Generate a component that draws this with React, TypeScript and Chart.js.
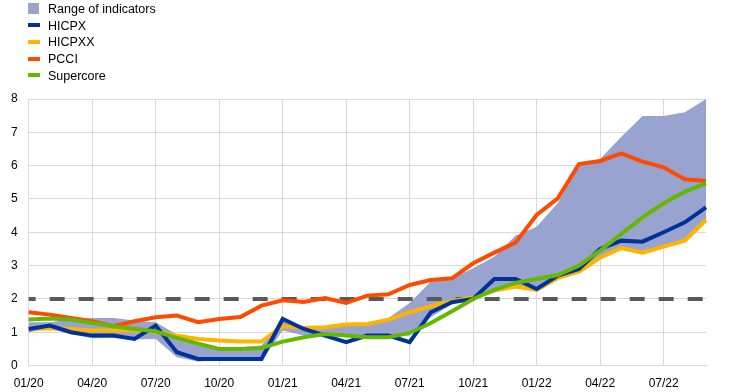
import React, { useEffect, useRef } from "react";
import { Chart, registerables } from "chart.js";

Chart.register(...registerables);

const months = [
  "01/20", "02/20", "03/20", "04/20", "05/20", "06/20", "07/20", "08/20", "09/20", "10/20", "11/20", "12/20",
  "01/21", "02/21", "03/21", "04/21", "05/21", "06/21", "07/21", "08/21", "09/21", "10/21", "11/21", "12/21",
  "01/22", "02/22", "03/22", "04/22", "05/22", "06/22", "07/22", "08/22", "09/22",
];

const rangeHigh = [
  1.3, 1.3, 1.38, 1.43, 1.43, 1.35, 1.3, 0.93, 0.6, 0.55, 0.55, 0.6,
  1.38, 1.15, 1.15, 1.24, 1.28, 1.43, 1.88, 2.52, 2.62, 2.92, 3.27, 3.9,
  4.17, 4.88, 6.0, 6.2, 6.87, 7.49, 7.49, 7.6, 8.0,
];
const rangeLow = [
  1.0, 1.1, 0.95, 0.82, 0.83, 0.78, 0.8, 0.25, 0.12, 0.17, 0.17, 0.13,
  1.05, 0.9, 0.93, 0.85, 0.93, 0.9, 0.9, 1.45, 1.85, 2.03, 2.2, 2.35,
  2.25, 2.6, 2.8, 3.2, 3.5, 3.35, 3.55, 3.75, 4.35,
];
const hicpx = [
  1.1, 1.2, 1.0, 0.9, 0.9, 0.8, 1.2, 0.4, 0.2, 0.2, 0.2, 0.2,
  1.4, 1.1, 0.9, 0.7, 0.9, 0.9, 0.7, 1.6, 1.9, 2.0, 2.6, 2.6,
  2.3, 2.7, 2.9, 3.5, 3.75, 3.72, 4.0, 4.3, 4.75,
];
const hicpxx = [
  1.1, 1.12, 1.1, 1.05, 1.05, 1.05, 1.02, 0.9, 0.8, 0.75, 0.72, 0.72,
  1.18, 1.13, 1.15, 1.23, 1.25, 1.38, 1.6, 1.78, 1.93, 2.05, 2.25, 2.37,
  2.27, 2.63, 2.82, 3.24, 3.53, 3.39, 3.57, 3.75, 4.37,
];
const pcci = [
  1.6, 1.53, 1.43, 1.33, 1.18, 1.33, 1.45, 1.5, 1.3, 1.4, 1.46, 1.8,
  1.96, 1.91, 2.03, 1.88, 2.1, 2.14, 2.42, 2.57, 2.62, 3.07, 3.39, 3.69,
  4.52, 5.02, 6.05, 6.14, 6.37, 6.12, 5.95, 5.59, 5.54,
];
const supercore = [
  1.38, 1.41, 1.38, 1.28, 1.18, 1.1, 1.03, 0.83, 0.66, 0.5, 0.5, 0.53,
  0.72, 0.85, 0.95, 0.9, 0.85, 0.85, 0.98, 1.28, 1.63, 2.0, 2.27, 2.48,
  2.6, 2.72, 3.0, 3.45, 3.95, 4.45, 4.87, 5.22, 5.47,
];
const targetValue = 2;
const yTicks = [0, 1, 2, 3, 4, 5, 6, 7, 8];

const COLORS = {
  range: "#99a3d0",
  hicpx: "#003299",
  hicpxx: "#ffb400",
  pcci: "#ff4b00",
  supercore: "#65b800",
  target: "#595959",
  grid: "#d9d9d9",
};

const FONT = '"Liberation Sans", Arial, sans-serif';

const legendItems = [
  { label: "Range of indicators", color: COLORS.range, square: true },
  { label: "HICPX", color: COLORS.hicpx, square: false },
  { label: "HICPXX", color: COLORS.hicpxx, square: false },
  { label: "PCCI", color: COLORS.pcci, square: false },
  { label: "Supercore", color: COLORS.supercore, square: false },
];

export default function App() {
  const ref = useRef<HTMLCanvasElement | null>(null);

  useEffect(() => {
    document.body.style.margin = "0";
    const canvas = ref.current;
    if (!canvas) return;
    const line = (label: string, data: number[], color: string, order: number) => ({
      label,
      data,
      borderColor: color,
      backgroundColor: color,
      borderWidth: 4,
      pointRadius: 0,
      tension: 0,
      fill: false,
      order,
    });
    const chart = new Chart(canvas, {
      type: "line",
      data: {
        labels: months,
        datasets: [
          {
            label: "low",
            data: rangeLow,
            borderWidth: 0,
            borderColor: "transparent",
            pointRadius: 0,
            fill: false,
            order: 10,
          },
          {
            label: "Range of indicators",
            data: rangeHigh,
            borderWidth: 0,
            borderColor: "transparent",
            backgroundColor: COLORS.range,
            pointRadius: 0,
            fill: 0,
            order: 9,
          },
          {
            label: "target",
            data: months.map(() => targetValue),
            borderColor: COLORS.target,
            borderWidth: 4,
            borderDash: [15, 14],
            borderDashOffset: 8,
            pointRadius: 0,
            fill: false,
            order: 8,
          },
          line("HICPXX", hicpxx, COLORS.hicpxx, 4),
          line("HICPX", hicpx, COLORS.hicpx, 3),
          line("PCCI", pcci, COLORS.pcci, 2),
          line("Supercore", supercore, COLORS.supercore, 1),
        ],
      },
      options: {
        responsive: false,
        animation: false,
        layout: { padding: { left: 0, right: 37, top: 99, bottom: -10 } },
        plugins: {
          legend: { display: false },
          tooltip: { enabled: false },
        },
        scales: {
          x: {
            type: "category",
            offset: false,
            grid: {
              color: (ctx: any) => (ctx.index % 3 === 0 ? COLORS.grid : "transparent"),
              drawTicks: false,
              lineWidth: 1,
            },
            border: { display: true, color: COLORS.grid },
            ticks: {
              autoSkip: false,
              maxRotation: 0,
              padding: 11,
              color: "#000",
              font: { family: FONT, size: 12 },
              callback: (_v: any, i: number) => (i % 3 === 0 ? months[i] : ""),
            },
          },
          y: {
            min: 0,
            max: 8,
            afterBuildTicks: (axis: any) => {
              axis.ticks = yTicks.map((v) => ({ value: v }));
            },
            grid: { color: COLORS.grid, drawTicks: false, lineWidth: 1 },
            border: { display: false },
            ticks: {
              padding: 11,
              color: "#000",
              font: { family: FONT, size: 12 },
            },
          },
        },
      },
    });
    return () => chart.destroy();
  }, []);

  return (
    <div style={{ position: "relative", width: 743, height: 392 }}>
      <canvas ref={ref} width={743} height={392} style={{ display: "block" }} />
      <div style={{ position: "absolute", left: 0, top: 0, fontFamily: FONT, fontSize: 12.5, color: "#000" }}>
        {legendItems.map((it, k) => (
          <div
            key={it.label}
            style={{ position: "absolute", left: 0, top: k * 16.7, height: 16.7, lineHeight: "16.7px", whiteSpace: "nowrap" }}
          >
            <span
              style={{
                position: "absolute",
                left: 28,
                top: it.square ? 3 : 6.5,
                width: it.square ? 11 : 12,
                height: it.square ? 11 : 4,
                background: it.color,
              }}
            />
            <span style={{ position: "absolute", left: 48, top: 1 }}>{it.label}</span>
          </div>
        ))}
      </div>
    </div>
  );
}
